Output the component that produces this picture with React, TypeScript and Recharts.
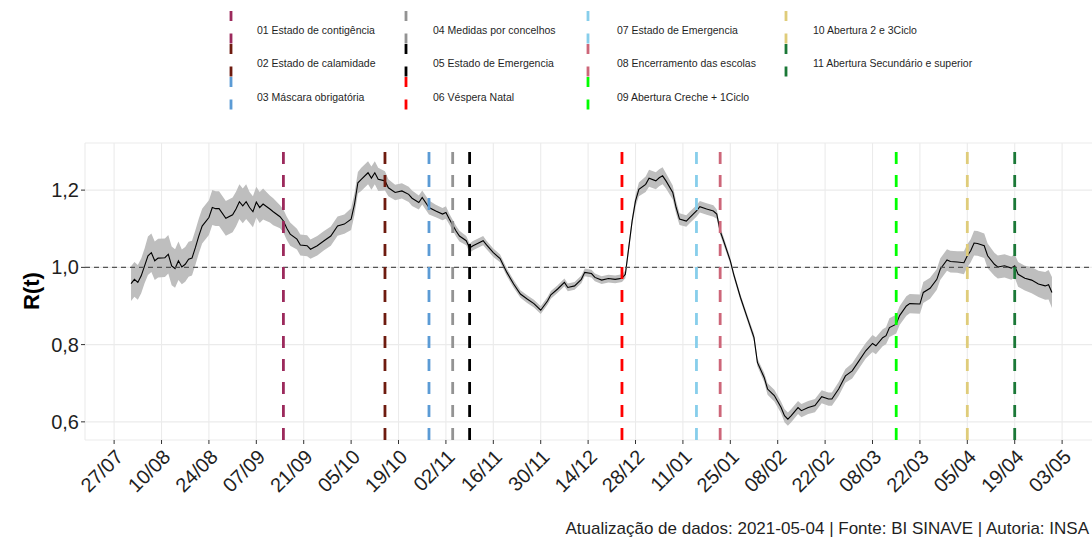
import React from 'react';
import { ComposedChart, Line, Area, XAxis, YAxis, CartesianGrid, ReferenceLine } from 'recharts';

// R(t) daily estimate with its 95% interval
const dates = [
  '2020-08-01', '2020-08-02', '2020-08-03', '2020-08-04', '2020-08-05', '2020-08-06', '2020-08-07', '2020-08-08', '2020-08-09',
  '2020-08-11', '2020-08-12', '2020-08-13', '2020-08-14', '2020-08-15', '2020-08-16', '2020-08-17', '2020-08-18', '2020-08-19',
  '2020-08-20', '2020-08-21', '2020-08-22', '2020-08-24', '2020-08-25', '2020-08-26', '2020-08-27', '2020-08-29', '2020-08-31',
  '2020-09-01', '2020-09-02', '2020-09-03', '2020-09-04', '2020-09-05', '2020-09-06', '2020-09-07', '2020-09-08', '2020-09-09',
  '2020-09-11', '2020-09-12', '2020-09-14', '2020-09-15', '2020-09-16', '2020-09-17', '2020-09-19', '2020-09-20', '2020-09-22',
  '2020-09-23', '2020-09-25', '2020-09-27', '2020-09-29',
  '2020-10-01', '2020-10-03', '2020-10-05', '2020-10-06', '2020-10-07', '2020-10-08', '2020-10-10', '2020-10-11', '2020-10-12',
  '2020-10-13', '2020-10-15', '2020-10-16', '2020-10-18', '2020-10-20', '2020-10-22', '2020-10-23', '2020-10-25', '2020-10-26',
  '2020-10-28', '2020-10-30',
  '2020-11-01', '2020-11-02', '2020-11-03', '2020-11-05', '2020-11-06', '2020-11-08', '2020-11-09', '2020-11-10', '2020-11-13',
  '2020-11-14', '2020-11-16', '2020-11-18', '2020-11-20', '2020-11-22', '2020-11-24', '2020-11-26', '2020-11-28', '2020-11-30',
  '2020-12-02', '2020-12-03', '2020-12-05', '2020-12-07', '2020-12-08', '2020-12-10', '2020-12-12', '2020-12-13', '2020-12-15',
  '2020-12-16', '2020-12-18', '2020-12-20', '2020-12-22', '2020-12-24', '2020-12-25', '2020-12-26', '2020-12-27', '2020-12-28',
  '2020-12-29', '2020-12-31',
  '2021-01-01', '2021-01-03', '2021-01-04', '2021-01-05', '2021-01-06', '2021-01-08', '2021-01-09', '2021-01-10', '2021-01-12',
  '2021-01-13', '2021-01-15', '2021-01-16', '2021-01-18', '2021-01-20', '2021-01-21', '2021-01-22', '2021-01-23', '2021-01-25',
  '2021-01-26', '2021-01-28', '2021-01-30',
  '2021-02-01', '2021-02-02', '2021-02-04', '2021-02-05', '2021-02-07', '2021-02-09', '2021-02-10', '2021-02-11', '2021-02-12',
  '2021-02-14', '2021-02-15', '2021-02-17', '2021-02-19', '2021-02-21', '2021-02-23', '2021-02-24', '2021-02-26', '2021-02-28',
  '2021-03-02', '2021-03-04', '2021-03-06', '2021-03-08', '2021-03-09', '2021-03-11', '2021-03-12', '2021-03-13', '2021-03-15',
  '2021-03-16', '2021-03-18', '2021-03-19', '2021-03-22', '2021-03-23', '2021-03-25', '2021-03-27', '2021-03-28', '2021-03-30',
  '2021-03-31',
  '2021-04-02', '2021-04-04', '2021-04-05', '2021-04-06', '2021-04-07', '2021-04-08', '2021-04-10', '2021-04-11', '2021-04-13',
  '2021-04-14', '2021-04-16', '2021-04-18', '2021-04-19', '2021-04-20', '2021-04-22', '2021-04-24', '2021-04-26', '2021-04-28',
  '2021-04-29', '2021-04-30',
];

const rt = [
  0.958, 0.969, 0.961, 0.978, 1.004, 1.030, 1.038, 1.017, 1.024, 1.025, 1.034, 1.004, 0.997, 1.017, 1.001, 1.008, 1.021, 1.024,
  1.051, 1.081, 1.107, 1.129, 1.155, 1.152, 1.152, 1.127, 1.136,
  1.151, 1.170, 1.159, 1.170, 1.155, 1.144, 1.169, 1.155, 1.164, 1.151, 1.144, 1.131, 1.120, 1.101, 1.086, 1.073, 1.058, 1.056,
  1.047, 1.056, 1.069, 1.081,
  1.107, 1.112, 1.125, 1.164, 1.219, 1.228, 1.245, 1.231, 1.245, 1.228, 1.224, 1.206, 1.194, 1.198, 1.189, 1.179, 1.168, 1.181,
  1.155, 1.146,
  1.138, 1.142, 1.125, 1.094, 1.081, 1.069, 1.050, 1.056, 1.069, 1.058, 1.038, 1.023, 0.987, 0.957, 0.931, 0.918, 0.906, 0.889,
  0.913, 0.929, 0.944, 0.961, 0.948, 0.952, 0.969, 0.987, 0.984, 0.974, 0.967, 0.971, 0.969, 0.972, 0.982, 1.051, 1.120, 1.172,
  1.202, 1.215,
  1.231, 1.224, 1.232, 1.237, 1.224, 1.194, 1.155, 1.125, 1.120, 1.129, 1.146, 1.157, 1.151, 1.146, 1.138, 1.094, 1.069, 1.017,
  0.982, 0.922, 0.870,
  0.818, 0.754, 0.715, 0.685, 0.668, 0.637, 0.616, 0.607, 0.616, 0.637, 0.629, 0.637, 0.642, 0.665, 0.659, 0.659, 0.685, 0.719,
  0.732, 0.758, 0.784, 0.803, 0.797, 0.818, 0.823, 0.844, 0.853, 0.875, 0.900, 0.906, 0.905, 0.935, 0.946, 0.969, 0.995, 1.019,
  1.015,
  1.014, 1.012, 1.030, 1.043, 1.063, 1.062, 1.056, 1.030, 1.008, 1.001, 1.004, 0.998, 1.004, 0.982, 0.972, 0.967, 0.957, 0.952,
  0.955, 0.935,
];

const rtLow = [
  0.913, 0.924, 0.916, 0.933, 0.959, 0.980, 0.988, 0.967, 0.974, 0.975, 0.984, 0.954, 0.947, 0.967, 0.956, 0.963, 0.976, 0.979,
  1.006, 1.036, 1.062, 1.084, 1.110, 1.107, 1.107, 1.082, 1.091,
  1.106, 1.125, 1.114, 1.125, 1.115, 1.104, 1.129, 1.115, 1.124, 1.116, 1.109, 1.101, 1.090, 1.071, 1.056, 1.046, 1.031, 1.029,
  1.022, 1.031, 1.044, 1.056,
  1.082, 1.087, 1.097, 1.136, 1.191, 1.198, 1.215, 1.201, 1.215, 1.198, 1.199, 1.184, 1.174, 1.178, 1.169, 1.159, 1.150, 1.163,
  1.137, 1.130,
  1.122, 1.126, 1.111, 1.080, 1.067, 1.057, 1.038, 1.044, 1.057, 1.047, 1.027, 1.013, 0.977, 0.947, 0.921, 0.908, 0.896, 0.879,
  0.903, 0.919, 0.934, 0.951, 0.938, 0.942, 0.959, 0.977, 0.974, 0.964, 0.957, 0.961, 0.959, 0.962, 0.972, 1.039, 1.108, 1.157,
  1.184, 1.195,
  1.209, 1.202, 1.210, 1.215, 1.204, 1.176, 1.139, 1.110, 1.105, 1.114, 1.131, 1.142, 1.136, 1.131, 1.126, 1.084, 1.059, 1.009,
  0.974, 0.914, 0.862,
  0.808, 0.744, 0.703, 0.670, 0.653, 0.622, 0.599, 0.590, 0.599, 0.620, 0.612, 0.620, 0.625, 0.648, 0.642, 0.642, 0.667, 0.701,
  0.712, 0.738, 0.764, 0.781, 0.775, 0.796, 0.801, 0.820, 0.829, 0.851, 0.875, 0.881, 0.880, 0.908, 0.919, 0.942, 0.967, 0.991,
  0.987,
  0.986, 0.982, 1.000, 1.013, 1.031, 1.030, 1.024, 0.998, 0.978, 0.971, 0.974, 0.968, 0.974, 0.950, 0.940, 0.933, 0.923, 0.916,
  0.917, 0.895,
];

const rtHigh = [
  1.003, 1.014, 1.006, 1.023, 1.049, 1.080, 1.088, 1.067, 1.074, 1.075, 1.084, 1.054, 1.047, 1.067, 1.046, 1.053, 1.066, 1.069,
  1.096, 1.126, 1.152, 1.174, 1.200, 1.197, 1.197, 1.172, 1.181,
  1.196, 1.215, 1.204, 1.215, 1.195, 1.184, 1.209, 1.195, 1.204, 1.186, 1.179, 1.161, 1.150, 1.131, 1.116, 1.100, 1.085, 1.083,
  1.072, 1.081, 1.094, 1.106,
  1.132, 1.137, 1.153, 1.192, 1.247, 1.258, 1.275, 1.261, 1.275, 1.258, 1.249, 1.228, 1.214, 1.218, 1.209, 1.199, 1.186, 1.199,
  1.173, 1.162,
  1.154, 1.158, 1.139, 1.108, 1.095, 1.081, 1.062, 1.068, 1.081, 1.069, 1.049, 1.033, 0.997, 0.967, 0.941, 0.928, 0.916, 0.899,
  0.923, 0.939, 0.954, 0.971, 0.958, 0.962, 0.979, 0.997, 0.994, 0.984, 0.977, 0.981, 0.979, 0.982, 0.992, 1.063, 1.132, 1.187,
  1.220, 1.235,
  1.253, 1.246, 1.254, 1.259, 1.244, 1.212, 1.171, 1.140, 1.135, 1.144, 1.161, 1.172, 1.166, 1.161, 1.150, 1.104, 1.079, 1.025,
  0.990, 0.930, 0.878,
  0.828, 0.764, 0.727, 0.700, 0.683, 0.652, 0.633, 0.624, 0.633, 0.654, 0.646, 0.654, 0.659, 0.682, 0.676, 0.676, 0.703, 0.737,
  0.752, 0.778, 0.804, 0.825, 0.819, 0.840, 0.845, 0.868, 0.877, 0.899, 0.925, 0.931, 0.930, 0.962, 0.973, 0.996, 1.023, 1.047,
  1.043,
  1.042, 1.042, 1.060, 1.073, 1.095, 1.094, 1.088, 1.062, 1.038, 1.031, 1.034, 1.028, 1.034, 1.014, 1.004, 1.001, 0.991, 0.988,
  0.993, 0.975,
];

// policy events (vertical dashed lines)
const eventLabels = [
  '01 Estado de contigência', '02 Estado de calamidade', '03 Máscara obrigatória',
  '04 Medidas por concelhos', '05 Estado de Emergencia', '06 Véspera Natal',
  '07 Estado de Emergencia', '08 Encerramento das escolas', '09 Abertura Creche + 1Ciclo',
  '10 Abertura 2 e 3Ciclo', '11 Abertura Secundário e superior',
];
const eventDates = [
  '2020-09-15', '2020-10-15', '2020-10-28', '2020-11-04', '2020-11-09', '2020-12-24',
  '2021-01-15', '2021-01-22', '2021-03-15', '2021-04-05', '2021-04-19',
];
const eventColors = [
  '#9c2a5c', '#6e1b0f', '#5b9bd5', '#939393', '#000000', '#ff0000',
  '#87ceeb', '#cd6679', '#00ff00', '#dfcc7a', '#1b7837',
];

const xTickDates = [
  '2020-07-27', '2020-08-10', '2020-08-24', '2020-09-07', '2020-09-21', '2020-10-05', '2020-10-19',
  '2020-11-02', '2020-11-16', '2020-11-30', '2020-12-14', '2020-12-28', '2021-01-11', '2021-01-25',
  '2021-02-08', '2021-02-22', '2021-03-08', '2021-03-22', '2021-04-05', '2021-04-19', '2021-05-03',
];
const yTicks = [0.6, 0.8, 1.0, 1.2];

const caption = 'Atualização de dados: 2021-05-04 | Fonte: BI SINAVE | Autoria: INSA';

const DAY = 86400000;
const ts = (s: string) => Date.UTC(+s.slice(0, 4), +s.slice(5, 7) - 1, +s.slice(8, 10));

const data = dates.map((d, i) => ({ t: ts(d), r: rt[i], band: [rtLow[i], rtHigh[i]] }));
const xMin = ts(dates[0]) - 13.6 * DAY;
const xMax = ts(dates[dates.length - 1]) + 13.6 * DAY;

const FONT = '"Liberation Sans", Arial, sans-serif';
const TEXT = '#1f1f1f';

const XTick = (props: any) => {
  const { x, y, payload } = props;
  const d = new Date(payload.value);
  const label = `${String(d.getUTCDate()).padStart(2, '0')}/${String(d.getUTCMonth() + 1).padStart(2, '0')}`;
  return (
    <text x={x} y={y} dy="0.72em" transform={`rotate(-45 ${x} ${y})`} textAnchor="end" fontSize={20} fill={TEXT}>
      {label}
    </text>
  );
};

const keyX = [231, 406, 588, 786];
const labelX = [257, 433, 617, 813];

export default function App() {
  return (
    <div style={{ position: 'absolute', left: 0, top: 0, width: 1092, height: 537, overflow: 'hidden', background: '#fff', fontFamily: FONT }}>
      <ComposedChart width={1100} height={537} data={data} margin={{ top: 143, right: 2, bottom: 0, left: 0 }}>
        <CartesianGrid stroke="#ebebeb" strokeWidth={1.1} />
        <XAxis
          dataKey="t"
          type="number"
          domain={[xMin, xMax]}
          ticks={xTickDates.map(ts)}
          interval={0}
          allowDataOverflow
          height={97}
          axisLine={false}
          tickSize={4}
          tickMargin={4}
          tickLine={{ stroke: '#333' }}
          tick={<XTick />}
        />
        <YAxis
          type="number"
          domain={[0.553, 1.322]}
          ticks={yTicks}
          allowDataOverflow
          width={85}
          axisLine={false}
          tickSize={4}
          tickMargin={2}
          tickLine={{ stroke: '#333' }}
          tick={{ fontSize: 20, fill: TEXT }}
          tickFormatter={(v: number) => v.toFixed(1).replace('.', ',')}
        />
        <Area
          type="linear"
          dataKey="band"
          stroke="none"
          fill="#bebebe"
          fillOpacity={1}
          isAnimationActive={false}
          dot={false}
          activeDot={false}
        />
        <Line type="linear" dataKey="r" stroke="#000" strokeWidth={1.1} dot={false} activeDot={false} isAnimationActive={false} />
        <ReferenceLine y={1} stroke="#555" strokeWidth={1.1} strokeDasharray="5 4" />
        {eventDates.map((d, i) => (
          <ReferenceLine key={d} x={ts(d)} stroke={eventColors[i]} strokeWidth={2.8} strokeDasharray="12 11" />
        ))}
      </ComposedChart>

      <svg width={1092} height={537} style={{ position: 'absolute', left: 0, top: 0, pointerEvents: 'none' }}>
        {eventLabels.map((lab, i) => {
          const col = Math.floor(i / 3);
          const row = i % 3;
          const top = 11 + row * 33;
          return (
            <g key={lab}>
              <line
                x1={keyX[col]} x2={keyX[col]} y1={top} y2={top + 33}
                stroke={eventColors[i]} strokeWidth={2.8} strokeDasharray="10 12.5"
              />
              <text x={labelX[col]} y={30 + row * 33.4} dominantBaseline="central" fontSize={10.5} fill={TEXT}>
                {lab}
              </text>
            </g>
          );
        })}
        <text x={31} y={291} transform="rotate(-90 31 291)" textAnchor="middle" dominantBaseline="central"
          fontSize={22} fontWeight="bold" fill="#000">
          R(t)
        </text>
        <text x={1089} y={528} textAnchor="end" dominantBaseline="central" fontSize={17} fill={TEXT}>
          {caption}
        </text>
      </svg>
    </div>
  );
}
